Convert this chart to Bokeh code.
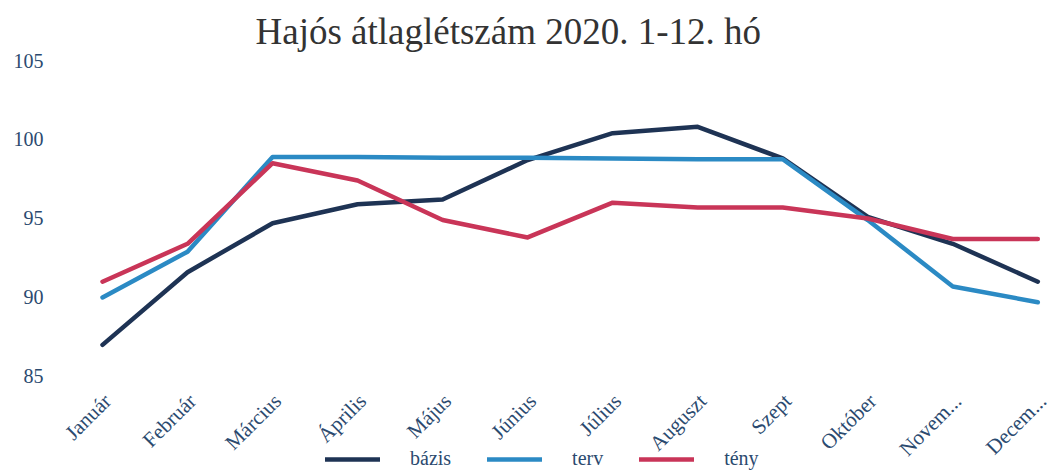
from bokeh.plotting import figure
from bokeh.models import FixedTicker, Legend, LegendItem, Range1d, Title
from bokeh.core.properties import value
from bokeh.embed import file_html
from bokeh.resources import INLINE
import math

months = ["Január", "Február", "Március", "Április", "Május", "Június",
          "Július", "Auguszt", "Szept", "Október", "Novem...", "Decem..."]
bazis = [87.0, 91.6, 94.7, 95.9, 96.2, 98.7, 100.4, 100.8, 98.8, 95.1, 93.4, 91.0]
terv = [90.0, 92.9, 98.9, 98.9, 98.85, 98.85, 98.8, 98.75, 98.75, 94.9, 90.7, 89.7]
teny = [91.0, 93.4, 98.5, 97.4, 94.9, 93.8, 96.0, 95.7, 95.7, 95.0, 93.7, 93.7]
y_ticks = [85, 90, 95, 100, 105]
y_min, y_max = 85, 105

FONT = "Liberation Serif"
NAVY_TXT = "#2b4a6f"

xs = list(range(len(months)))

# frame extends below the value range so the category labels and legend sit inside it
p = figure(frame_width=1000, frame_height=410, output_backend="svg", toolbar_location=None,
           x_range=Range1d(-0.553, 11.208), y_range=Range1d(79.05, y_max),
           min_border_left=55, min_border_right=0, min_border_top=60,
           min_border_bottom=0)
p.outline_line_color = None
p.xgrid.visible = False
p.ygrid.visible = False
p.xaxis.visible = False

t = Title(text="Hajós átlaglétszám 2020. 1-12. hó", align="left",
          text_font=FONT, text_font_size="37px", text_font_style="normal",
          text_color="#333333", offset=200, standoff=17)
p.add_layout(t, "above")

r1 = p.line(xs, bazis, line_color="#1e3354", line_width=4.5, line_join="round", line_cap="round")
r2 = p.line(xs, terv, line_color="#2b8ac4", line_width=4.5, line_join="round", line_cap="round")
r3 = p.line(xs, teny, line_color="#c93558", line_width=4.5, line_join="round", line_cap="round")

ax = p.yaxis[0]
ax.axis_line_color = None
ax.major_tick_line_color = None
ax.minor_tick_line_color = None
ax.major_label_text_font = FONT
ax.major_label_text_color = NAVY_TXT
ax.ticker = FixedTicker(ticks=y_ticks)
ax.major_label_text_font_size = "20px"
ax.major_label_standoff = 6

# category labels, rotated 45 degrees, hanging below the lowest value
p.text(x=xs, y=[y_min] * len(xs), text=months, angle=math.pi / 4,
       text_align="right", text_baseline="middle", x_offset=5, y_offset=21,
       text_font=value(FONT), text_font_size="21px", text_color=NAVY_TXT)

legend = Legend(items=[LegendItem(label="bázis", renderers=[r1]),
                       LegendItem(label="terv", renderers=[r2]),
                       LegendItem(label="tény", renderers=[r3])],
                orientation="horizontal", location=(270, 0),
                glyph_width=55, glyph_height=12, label_standoff=30, spacing=36,
                label_text_font=FONT, label_text_font_size="20px",
                label_text_color=NAVY_TXT, background_fill_alpha=0,
                border_line_color=None, padding=0, margin=0)
p.add_layout(legend, "center")

open("out.html", "w").write(file_html(p, INLINE))
